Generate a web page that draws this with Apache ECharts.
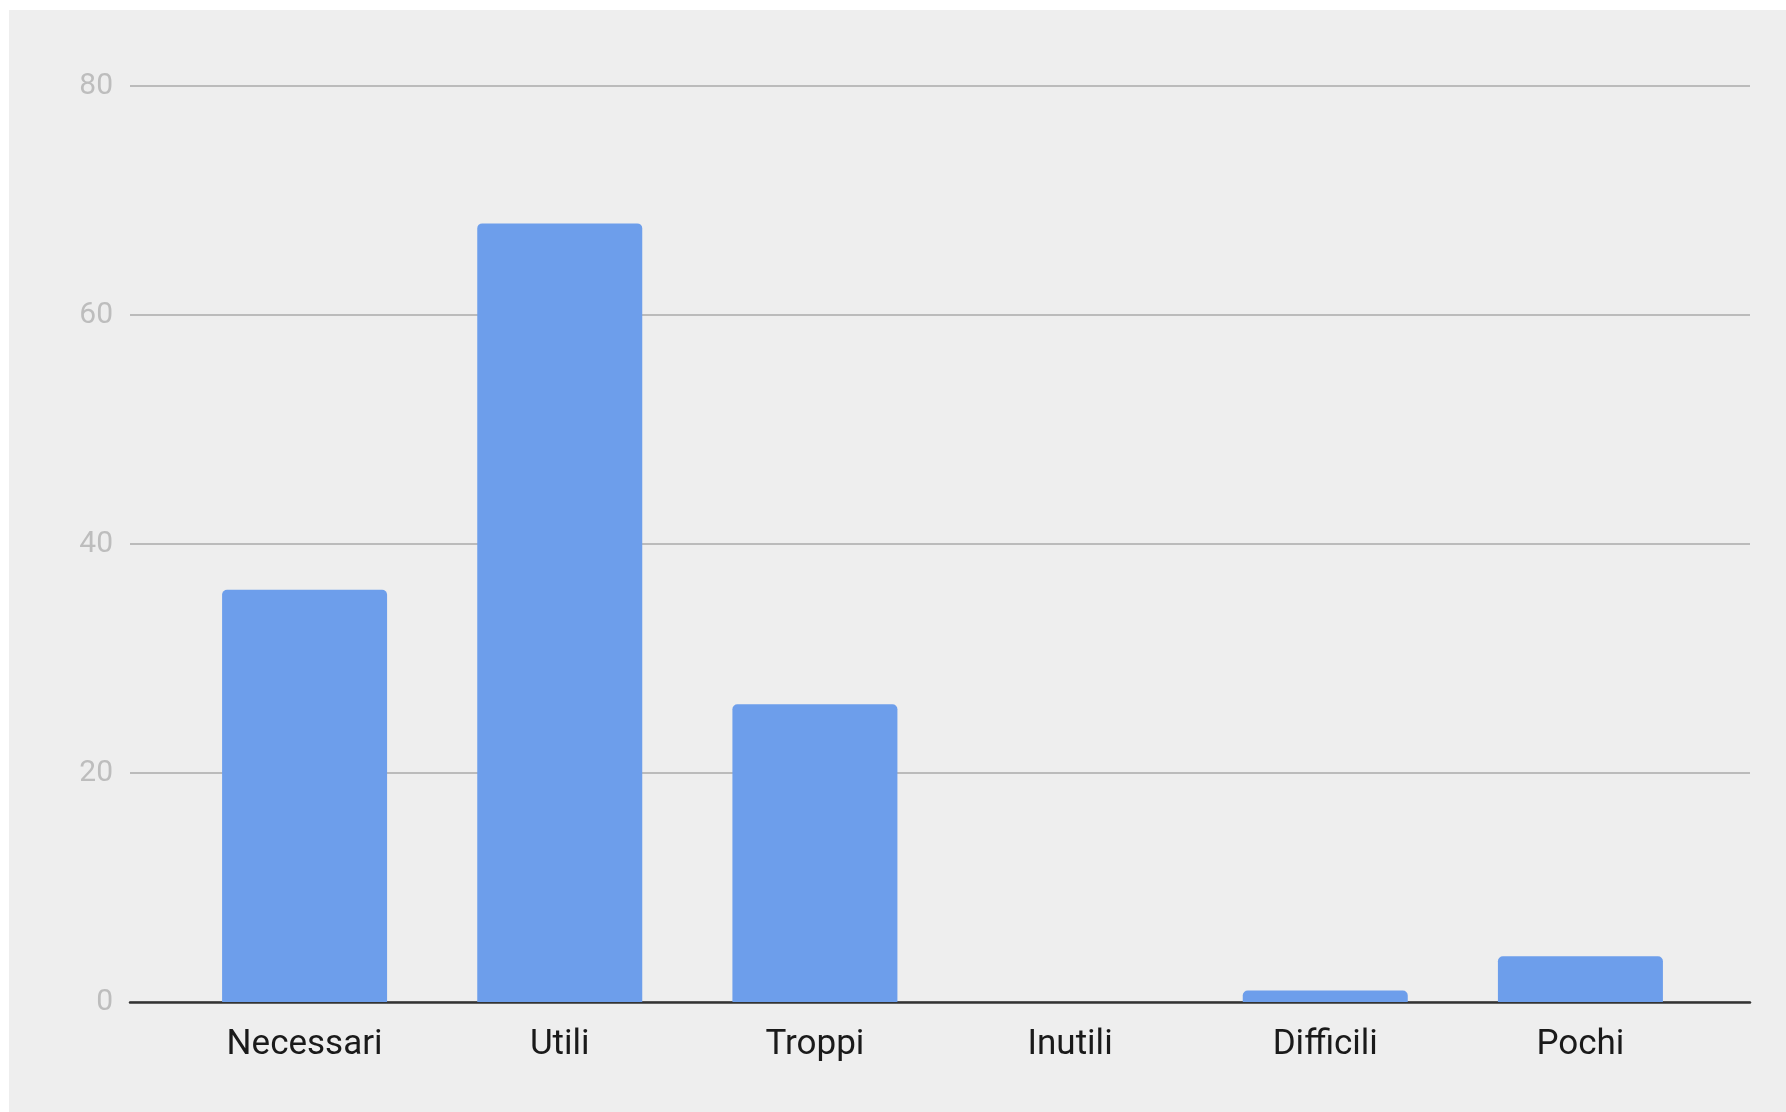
<!DOCTYPE html>
<html>
<head>
<meta charset="utf-8">
<script src="https://cdn.jsdelivr.net/npm/echarts@6/dist/echarts.min.js"></script>
<style>
	body { margin: 0; background: #fff; }
	#chart { position: absolute; left: 9px; top: 10px; width: 1777px; height: 1102px; background: #eeeeee; }
</style>
</head>
<body>
<div id="chart"></div>
<script>
const categories = ['Necessari', 'Utili', 'Troppi', 'Inutili', 'Difficili', 'Pochi'];
const values = [36, 68, 26, 0, 1, 4];
const yTicks = [0, 20, 40, 60, 80];

const chart = echarts.init(document.getElementById('chart'));
chart.setOption({
	animation: false,
	grid: [
		// wide grid: gridlines, y labels, baseline
		{ left: 121, right: 36, top: 76, bottom: 110 },
		// narrower grid for the bars, same vertical range
		{ left: 168, right: 78, top: 76, bottom: 110 },
	],
	xAxis: [
		{
			gridIndex: 0,
			type: 'category',
			data: [''],
			axisLine: { show: true, lineStyle: { color: '#333', width: 2.5 } },
			axisTick: { show: false },
			axisLabel: { show: false },
		},
		{
			gridIndex: 1,
			type: 'category',
			data: categories,
			axisLine: { show: false },
			axisTick: { show: false },
			axisLabel: {
				color: '#1a1a1a',
				fontFamily: 'Roboto',
				fontSize: 35,
				margin: 26,
			},
		},
	],
	yAxis: [
		{
			gridIndex: 0,
			type: 'value',
			min: yTicks[0],
			max: yTicks[yTicks.length - 1],
			interval: 20,
			axisLine: { show: false },
			axisTick: { show: false },
			axisLabel: {
				color: '#bdbdbd',
				fontFamily: 'Roboto',
				fontSize: 30,
				margin: 17,
			},
			splitLine: { lineStyle: { color: '#bbbbbb', width: 2 } },
		},
		{
			gridIndex: 1,
			type: 'value',
			min: yTicks[0],
			max: yTicks[yTicks.length - 1],
			interval: 20,
			show: false,
			splitLine: { show: false },
		},
	],
	series: [
		{
			type: 'bar',
			xAxisIndex: 1,
			yAxisIndex: 1,
			data: values,
			barWidth: 165,
			itemStyle: {
				color: '#6d9eeb',
				borderRadius: [5, 5, 0, 0],
			},
			z: 3,
		},
	],
});
</script>
</body>
</html>
